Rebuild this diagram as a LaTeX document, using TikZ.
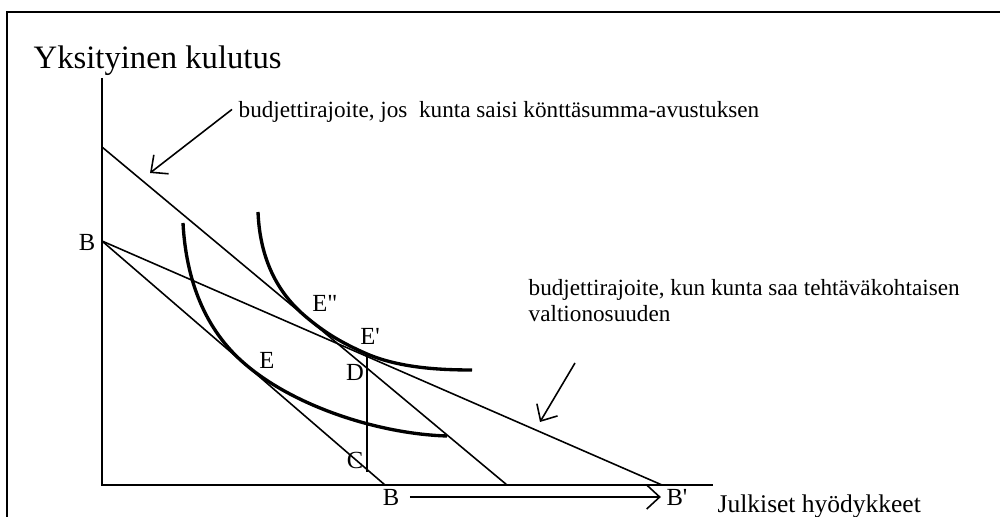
\documentclass[tikz,border=0pt]{standalone}
\usepackage{fontspec}
\setmainfont{Liberation Serif}[Ligatures=TeXOff]
\usetikzlibrary{arrows.meta,positioning}

\begin{document}
\begin{tikzpicture}[x=0.1mm,y=-0.1mm,
    frame/.style={line width=0.4pt},
    axis/.style={line width=0.75pt},
    budget/.style={line width=0.45pt},
    indiff/.style={line width=0.95pt},
    pt/.style={inner sep=0pt,font=\fontsize{7}{8}\selectfont},
    axlab/.style={inner sep=0pt,anchor=base west,font=\fontsize{9.3}{10}\selectfont},
    note/.style={inner sep=0pt,anchor=base west,align=left,font=\fontsize{6.6}{7.4}\selectfont},
    arr/.style={-{Straight Barb[length=1.3mm,width=2.4mm]},line width=0.45pt},
]
\useasboundingbox (0,0) rectangle (1000,517);

% Frame
\coordinate (fr0) at (7,517);
\coordinate (fr1) at (7,12);
\coordinate (fr2) at (1000,12);
\draw[frame] (fr0) -- (fr1) -- (fr2);

% Axes
\coordinate (O) at (102,485);
\coordinate (ytop) at (102,78);
\coordinate (xend) at (713,485);
\node[axlab] (ylab) at (33,69) {Yksityinen kulutus};
\node[axlab,font=\fontsize{7.25}{9}\selectfont] (xlab) at (717,513) {Julkiset hyödykkeet};

% Budget lines
\coordinate (B0) at (102,241);
\coordinate (L0) at (102,147);
\coordinate (B1) at (385,485);
\coordinate (L1) at (507,485);
\coordinate (B2) at (662,485);

% Point labels
\node[pt] (Bleft) at (87,242) {B};
\node[pt] (Bx) at (391,497) {B};
\node[pt] (Bp) at (677,497) {B'};
\node[pt] (E) at (267,360) {E};
\node[pt] (Epp) at (325,303) {E"};
\node[pt] (Ep) at (370,336) {E'};
\node[pt] (D) at (355,372) {D};
\node[pt] (C) at (355,460) {C};

% Notes
\node[note] (lumpnote) at (238,118) {budjettirajoite, jos\ \ kunta saisi könttäsumma-avustuksen};
\node[note] (matchnote) at (528,322) {budjettirajoite, kun kunta saa tehtäväkohtaisen\\valtionosuuden};
\coordinate (lumptip) at (150,173);
\coordinate (matchtail) at (575,363);
\coordinate (matchtip) at (540,422);

% D--C segment
\coordinate (Dtop) at (367,354);
\coordinate (Cbot) at (367,472);

% Lines
\draw[axis] (ytop) -- (O) -- (xend);
\draw[budget] (L0) -- (L1);
\draw[budget] (B0) -- (B1);
\draw[budget] (B0) -- (B2);
\draw[axis] (Dtop) -- (Cbot);

% Indifference curves
\draw[indiff] (183,223) .. controls (186,280) and (205,330) .. (245,364)
    .. controls (295,407) and (380,434) .. (447,436);
\draw[indiff] (258,212) .. controls (260,260) and (278,293) .. (305,316)
    .. controls (325,333) and (342,343) .. (Dtop)
    .. controls (400,368) and (440,370) .. (472,370);

% Arrows
\draw[arr] ([xshift=-0.6mm,yshift=0.3mm]lumpnote.west) -- (lumptip);
\draw[arr] (matchtail) -- (matchtip);
\draw[arr] ([xshift=1mm]Bx.east) -- ([xshift=-0.5mm]Bp.west);
\end{tikzpicture}
\end{document}
